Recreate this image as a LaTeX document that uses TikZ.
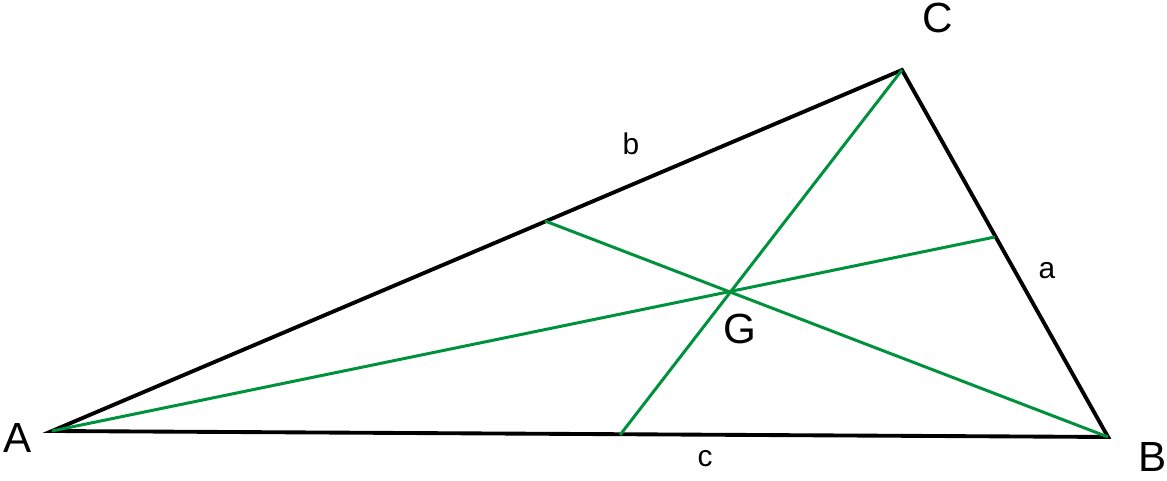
\documentclass[tikz,border=0pt]{standalone}
\usepackage{fontspec}
\setmainfont{Liberation Sans}
\definecolor{med}{RGB}{0,145,60}
\begin{document}
\begin{tikzpicture}
\tikzset{side/.style={line width=2.2pt,black},
median/.style={line width=1.7pt,med},
big/.style={font=\fontsize{24}{28}\selectfont},
small/.style={font=\fontsize{17}{20}\selectfont}}
\useasboundingbox (0,0) rectangle (23.34,9.62);
\coordinate (A) at (1.04,1.0);
\coordinate (B) at (22.16,0.88);
\coordinate (C) at (18.04,8.22);
\coordinate (Mc) at (12.4,0.92);
\coordinate (Mb) at (10.9,5.2);
\coordinate (Ma) at (19.9,4.88);
\draw[side] (A) -- (B) -- (C) -- cycle;
\draw[median] (A) -- (Ma);
\draw[median] (B) -- (Mb);
\draw[median] (C) -- (Mc);
\node[big] (lA) at (0.36,0.86) {A};
\node[big] (lB) at (23.06,0.48) {B};
\node[big] (lC) at (18.76,9.26) {C};
\node[big] (lG) at (14.8,3.04) {G};
\node[small] (la) at (20.94,4.2) {a};
\node[small] (lb) at (12.62,6.74) {b};
\node[small] (lc) at (14.1,0.44) {c};
\end{tikzpicture}
\end{document}
